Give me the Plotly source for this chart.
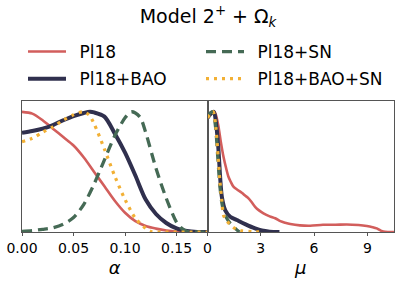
import plotly.graph_objects as go

# ---- data ----
alpha_pl18 = [0, 0.01, 0.02, 0.03, 0.04, 0.05, 0.06, 0.07, 0.08, 0.09, 0.10, 0.11, 0.12, 0.13, 0.14, 0.15, 0.16, 0.18]
dens_pl18 = [1.0, 0.985, 0.93, 0.86, 0.79, 0.72, 0.62, 0.50, 0.38, 0.26, 0.16, 0.09, 0.05, 0.028, 0.012, 0.003, 0.0, 0.0]

alpha_bao = [0, 0.01, 0.02, 0.03, 0.04, 0.05, 0.06, 0.066, 0.07, 0.08, 0.09, 0.10, 0.11, 0.12, 0.13, 0.14, 0.15, 0.16, 0.17, 0.18]
dens_bao = [0.825, 0.84, 0.86, 0.89, 0.93, 0.965, 0.99, 1.0, 0.995, 0.96, 0.82, 0.66, 0.47, 0.27, 0.15, 0.075, 0.03, 0.008, 0.0, 0.0]

alpha_sn = [0, 0.01, 0.02, 0.03, 0.04, 0.05, 0.06, 0.07, 0.08, 0.09, 0.10, 0.106, 0.11, 0.115, 0.12, 0.13, 0.14, 0.15, 0.155, 0.16, 0.17, 0.18]
dens_sn = [0.005, 0.012, 0.022, 0.035, 0.065, 0.12, 0.23, 0.40, 0.60, 0.80, 0.95, 1.0, 0.99, 0.95, 0.83, 0.53, 0.28, 0.08, 0.03, 0.005, 0.0, 0.0]

alpha_baosn = [0, 0.01, 0.02, 0.03, 0.04, 0.05, 0.059, 0.065, 0.07, 0.08, 0.09, 0.10, 0.11, 0.12, 0.125, 0.13, 0.18]
dens_baosn = [0.751, 0.78, 0.83, 0.875, 0.93, 0.975, 1.0, 0.975, 0.90, 0.69, 0.465, 0.27, 0.115, 0.03, 0.005, 0.0, 0.0]

mu_pl18 = [0, 0.2, 0.39, 0.5, 0.62, 0.75, 0.9, 1.05, 1.18, 1.3, 1.46, 1.7, 1.93, 2.1, 2.31, 2.5, 2.68, 2.9, 3.15,
           3.5, 3.81, 4.1, 4.37, 4.66, 5.2, 5.78, 6.5, 7.2, 7.84, 8.5, 8.97, 9.3, 9.53, 9.75, 9.9, 10.2, 10.5]
mdens_pl18 = [0.96, 0.985, 1.0, 0.96, 0.875, 0.75, 0.626, 0.53, 0.46, 0.42, 0.377, 0.35, 0.327, 0.305, 0.28, 0.245,
              0.21, 0.18, 0.155, 0.13, 0.114, 0.09, 0.077, 0.066, 0.055, 0.052, 0.06, 0.06, 0.063, 0.058, 0.05, 0.04,
              0.03, 0.012, 0.003, 0.0, 0.0]

mu_bao = [0, 0.15, 0.35, 0.5, 0.62, 0.71, 0.81, 1.0, 1.28, 1.65, 2.12, 2.68, 3.06, 3.5, 4.05]
mdens_bao = [0.95, 0.98, 1.0, 0.88, 0.68, 0.46, 0.29, 0.18, 0.127, 0.1, 0.066, 0.03, 0.012, 0.003, 0.0]

mu_sn = [0, 0.15, 0.3, 0.45, 0.58, 0.7, 0.8, 0.9, 1.1, 1.28, 1.56, 1.8]
mdens_sn = [0.96, 0.99, 1.0, 0.88, 0.62, 0.38, 0.25, 0.18, 0.11, 0.072, 0.03, 0.0]

mu_baosn = [0, 0.15, 0.32, 0.47, 0.6, 0.7, 0.8, 0.9, 1.1, 1.28, 1.6, 1.93, 2.5, 3.0]
mdens_baosn = [0.95, 0.98, 1.0, 0.87, 0.62, 0.42, 0.27, 0.14, 0.09, 0.06, 0.025, 0.01, 0.003, 0.0]

alpha_ticks = [0, 0.05, 0.10, 0.15]
alpha_ticklabels = ["0.00", "0.05", "0.10", "0.15"]
mu_ticks = [0, 3, 6, 9]
mu_ticklabels = ["0", "3", "6", "9"]

names = ["Pl18", "Pl18+BAO", "Pl18+SN", "Pl18+BAO+SN"]
colors = ["#d25e5c", "#30304e", "#456a55", "#f2b035"]
widths = [2.6, 4.0, 3.3, 3.2]
dashes = ["solid", "solid", "10px,6px", "3px,5px"]
legend_of = ["legend", "legend", "legend2", "legend2"]

left_data = [(alpha_pl18, dens_pl18), (alpha_bao, dens_bao), (alpha_sn, dens_sn), (alpha_baosn, dens_baosn)]
right_data = [(mu_pl18, mdens_pl18), (mu_bao, mdens_bao), (mu_sn, mdens_sn), (mu_baosn, mdens_baosn)]

FONT = "DejaVu Sans"
fig = go.Figure()
for i in range(4):
    line = dict(color=colors[i], width=widths[i], dash=dashes[i], shape="spline", smoothing=0.8)
    fig.add_trace(go.Scatter(x=left_data[i][0], y=left_data[i][1], mode="lines",
                             name="\u2002" + names[i], legendgroup=names[i],
                             line=line, xaxis="x", yaxis="y", legend=legend_of[i]))
    fig.add_trace(go.Scatter(x=right_data[i][0], y=right_data[i][1], mode="lines", name=names[i],
                             legendgroup=names[i], line=line, xaxis="x2", yaxis="y2", showlegend=False))

W, H = 399, 283
x0, xm, x1 = 22, 207.5, 394
ytop, ybot = 101, 232
axis_common = dict(showline=True, linecolor="#555", linewidth=1, mirror=True, showgrid=False,
                   zeroline=False, ticks="outside", ticklen=3, tickcolor="#555", automargin=False,
                   tickfont=dict(family=FONT, size=14, color="black"))
yaxis_common = dict(domain=[1 - ybot / H, 1 - ytop / H], range=[0, 1.09], showticklabels=False,
                    showline=True, linecolor="#555", linewidth=1, mirror=True, showgrid=False,
                    zeroline=False, ticks="", automargin=False)
legend_common = dict(xanchor="left", yanchor="top", bgcolor="rgba(0,0,0,0)",
                     font=dict(family=FONT, size=17, color="black"), itemwidth=38, tracegroupgap=2)
fig.update_layout(
    width=W, height=H, margin=dict(l=0, r=0, t=0, b=0, autoexpand=False),
    paper_bgcolor="white", plot_bgcolor="white",
    font=dict(family=FONT, color="black"),
    title=dict(text="Model 2<sup>+</sup> + Ω<sub><i>k</i></sub>", x=208 / W, xanchor="center",
               y=1 - 16 / H, yanchor="middle", font=dict(family=FONT, size=19, color="black")),
    xaxis=dict(domain=[x0 / W, xm / W], range=[0, 0.18], tickvals=alpha_ticks, ticktext=alpha_ticklabels,
               anchor="y", title=dict(text="<i>α</i>", font=dict(family=FONT, size=18), standoff=6), **axis_common),
    xaxis2=dict(domain=[xm / W, x1 / W], range=[0, 10.5], tickvals=mu_ticks, ticktext=mu_ticklabels,
                anchor="y2", title=dict(text="<i>μ</i>", font=dict(family=FONT, size=18), standoff=6), **axis_common),
    yaxis=dict(anchor="x", **yaxis_common),
    yaxis2=dict(anchor="x2", **yaxis_common),
    legend=dict(x=23 / W, y=1 - 34 / H, **legend_common),
    legend2=dict(x=201 / W, y=1 - 34 / H, **legend_common),
)
fig.write_html("out.html", config={"displayModeBar": False},
               post_script="document.body.style.margin='0';")
